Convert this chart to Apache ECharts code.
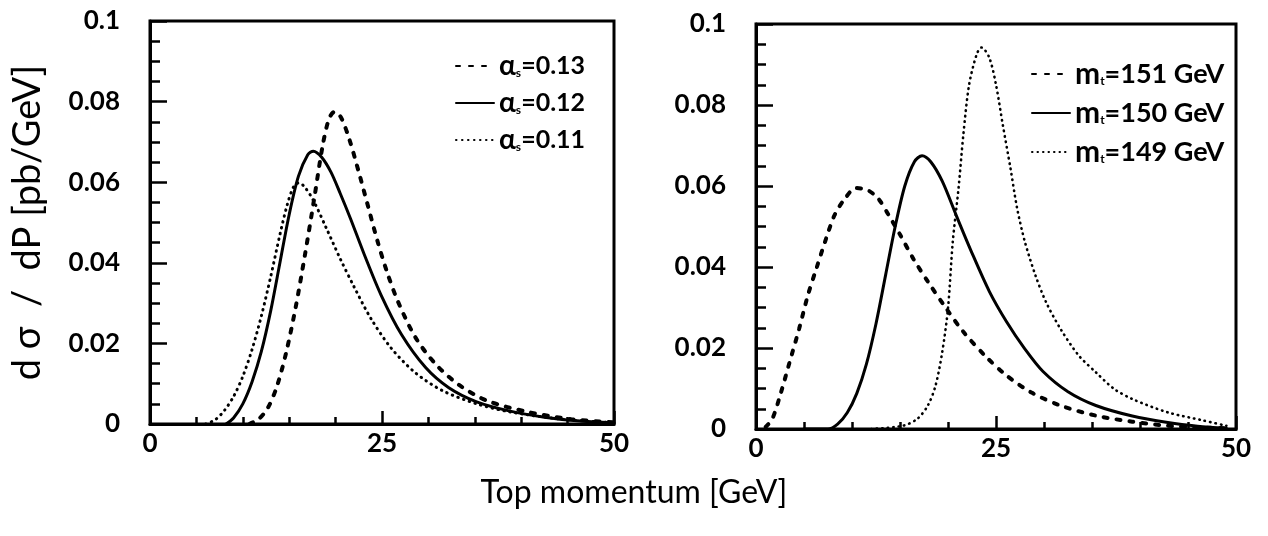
<!DOCTYPE html>
<html>
<head>
<meta charset="utf-8">
<script src="https://cdn.jsdelivr.net/npm/echarts@6/dist/echarts.min.js"></script>
<style>
  html, body { margin: 0; padding: 0; background: #fff; }
  #chart { width: 1268px; height: 536px; }
</style>
</head>
<body>
<div id="chart"></div>
<script>
// Top momentum spectra: momentum in GeV, dσ/dP in pb/GeV.

// Left panel: varying strong coupling
const alpha013X = [10.7, 11.7, 12.7, 13.7, 14.7, 15.7, 16.7, 17.7, 18.6, 19.3, 19.9, 20.6, 21.5, 22.5, 23.5, 24.5, 25.5, 26.7, 28.6, 30.8, 33.3, 36.3, 40.7, 45.4, 50.0];
const alpha013Y = [0, 0.0012, 0.0040, 0.0095, 0.0180, 0.0290, 0.0420, 0.0560, 0.0690, 0.0758, 0.0775, 0.0760, 0.0705, 0.0625, 0.0540, 0.0455, 0.0380, 0.0305, 0.0215, 0.0148, 0.0097, 0.0058, 0.0030, 0.0012, 0.0004];

const alpha012X = [8.2, 9.0, 10.0, 11.0, 12.0, 13.0, 14.0, 15.0, 16.0, 17.0, 17.6, 18.5, 19.5, 20.5, 21.6, 23.1, 24.9, 27.1, 29.7, 32.2, 35.2, 38.8, 42.5, 46.0, 50.0];
const alpha012Y = [0, 0.0015, 0.0050, 0.0105, 0.0180, 0.0280, 0.0400, 0.0520, 0.0615, 0.0668, 0.0677, 0.0662, 0.0625, 0.0572, 0.0510, 0.0420, 0.0320, 0.0222, 0.0140, 0.0090, 0.0055, 0.0032, 0.0017, 0.0008, 0.0003];

const alpha011X = [6.0, 7.0, 8.0, 9.0, 10.0, 11.0, 12.0, 13.0, 14.0, 14.8, 15.5, 16.0, 16.6, 17.6, 19.0, 20.5, 22.0, 23.8, 26.0, 28.6, 31.5, 35.2, 38.8, 44.3, 50.0];
const alpha011Y = [0, 0.0010, 0.0033, 0.0068, 0.0118, 0.0185, 0.0268, 0.0365, 0.0470, 0.0545, 0.0590, 0.0598, 0.0590, 0.0555, 0.0486, 0.0410, 0.0340, 0.0262, 0.0188, 0.0127, 0.0083, 0.0050, 0.0030, 0.0012, 0.0003];

// Right panel: varying top mass
const mt151X = [1.0, 1.7, 2.6, 3.5, 4.5, 5.4, 6.3, 7.3, 8.2, 9.3, 10.4, 11.6, 12.7, 13.8, 15.0, 16.4, 17.9, 19.8, 21.6, 23.9, 26.1, 28.7, 31.7, 35.4, 39.2, 42.9, 46.0, 49.0];
const mt151Y = [0.0005, 0.0025, 0.009, 0.0165, 0.0248, 0.033, 0.0397, 0.047, 0.0529, 0.057, 0.0595, 0.059, 0.057, 0.0529, 0.048, 0.042, 0.0364, 0.0298, 0.024, 0.018, 0.0132, 0.009, 0.0058, 0.0033, 0.0018, 0.0008, 0.0004, 0.0002];

const mt150X = [5.0, 7.5, 8.5, 9.5, 10.5, 11.5, 12.5, 13.5, 14.5, 15.5, 16.5, 17.3, 18.2, 19.4, 20.9, 22.4, 24.3, 26.1, 28.0, 29.9, 32.5, 35.4, 39.2, 42.9, 46.0, 49.0];
const mt150Y = [0, 0, 0.0012, 0.0040, 0.0088, 0.0160, 0.0260, 0.0380, 0.0500, 0.0600, 0.0660, 0.0675, 0.0660, 0.0612, 0.0525, 0.0440, 0.0340, 0.0265, 0.0198, 0.0142, 0.0092, 0.0058, 0.0032, 0.0016, 0.0007, 0.0002];

const mt149X = [12.0, 15.3, 16.8, 17.9, 18.7, 19.4, 20.0, 20.5, 21.1, 21.6, 22.2, 23.0, 23.5, 24.3, 25.0, 25.7, 26.5, 27.2, 28.0, 29.1, 30.2, 31.7, 33.6, 35.4, 37.3, 39.2, 42.9, 46.6, 49.0];
const mt149Y = [0, 0.0008, 0.0025, 0.0058, 0.0107, 0.019, 0.0298, 0.0463, 0.0595, 0.0727, 0.085, 0.0926, 0.0942, 0.0917, 0.085, 0.0752, 0.0645, 0.0545, 0.0463, 0.038, 0.0314, 0.0248, 0.0182, 0.014, 0.0099, 0.0074, 0.0041, 0.0021, 0.0008];

const xTickLabels = ['0', '25', '50'];
const yTickLabels = ['0', '0.02', '0.04', '0.06', '0.08', '0.1'];

const alphaValues = ['0.13', '0.12', '0.11'];
const massValues = ['151', '150', '149'];

function pairs(xs, ys) { return xs.map((x, i) => [x, ys[i]]); }

const FONT = 'Lato, "Open Sans", "DejaVu Sans", sans-serif';

const dashed = { color: '#000', width: 4, type: [4, 9], cap: 'round' };
const solid = { color: '#000', width: 3, type: 'solid', cap: 'round' };
const dotted = { color: '#000', width: 3, type: [0.5, 5.5], cap: 'round' };
const dottedThin = { color: '#000', width: 2.6, type: [0.5, 5], cap: 'round' };

function xAxisFor(gridIndex) {
  return {
    type: 'value', gridIndex, min: 0, max: 50, interval: 25,
    axisLine: { show: true, onZero: false, lineStyle: { color: '#000', width: 3 } },
    axisTick: { show: true, inside: true, length: 13, lineStyle: { color: '#000', width: 2.5 } },
    minorTick: { show: true, splitNumber: 5, length: 7, lineStyle: { color: '#000', width: 2.5 } },
    splitLine: { show: false },
    axisLabel: {
      color: '#000', fontFamily: FONT, fontWeight: 'bold', fontSize: 26, margin: 7,
      formatter: v => xTickLabels[Math.round(v / 25)]
    }
  };
}

function yAxisFor(gridIndex, extra) {
  return Object.assign({
    type: 'value', gridIndex, min: 0, max: 0.1, interval: 0.02,
    axisLine: { show: true, onZero: false, lineStyle: { color: '#000', width: 3 } },
    axisTick: { show: true, inside: true, length: 17, lineStyle: { color: '#000', width: 2.5 } },
    minorTick: { show: true, splitNumber: 4, length: 10, lineStyle: { color: '#000', width: 2.5 } },
    splitLine: { show: false },
    axisLabel: {
      color: '#000', fontFamily: FONT, fontWeight: 'bold', fontSize: 26, margin: 30,
      formatter: v => yTickLabels[Math.round(v / 0.02)]
    }
  }, extra || {});
}

function legendRich(size) {
  return {
    g: { fontFamily: FONT, fontWeight: 'bold', fontSize: size + 3, color: '#000', lineHeight: 30 },
    sub: { fontFamily: FONT, fontWeight: 'bold', fontSize: 12, color: '#000', lineHeight: 30, padding: [15, 0, 0, 0] },
    v: { fontFamily: FONT, fontWeight: 'bold', fontSize: size, color: '#000', lineHeight: 30 }
  };
}

function legendFor(names, left, top, head, subs, tail, size) {
  return {
    orient: 'vertical', left, top,
    itemWidth: 38, itemHeight: 30, itemGap: 9,
    data: names,
    selectedMode: false,
    itemStyle: { opacity: 0, color: 'rgba(0,0,0,0)', borderWidth: 0 },
    formatter: name => {
      const i = names.indexOf(name);
      return '{g|' + head + '}{sub|' + subs + '}{v|=' + tail[i] + '}';
    },
    textStyle: { rich: legendRich(size), padding: [0, 0, 0, 0] }
  };
}

const alphaNames = alphaValues.map(v => 'αs=' + v);
const massNames = massValues.map(v => 'mt=' + v + ' GeV');

const option = {
  animation: false,
  backgroundColor: '#fff',
  color: ['#000'],
  grid: [
    { left: 150, top: 21, width: 464, height: 403, show: true, borderColor: '#000', borderWidth: 3, backgroundColor: 'transparent' },
    { left: 756, top: 24, width: 480, height: 405, show: true, borderColor: '#000', borderWidth: 3, backgroundColor: 'transparent' }
  ],
  xAxis: [xAxisFor(0), xAxisFor(1)],
  yAxis: [
    yAxisFor(0, {
      name: 'd σ  /  dP [pb/GeV]', nameLocation: 'middle', nameRotate: 90, nameGap: 103,
      nameTextStyle: { fontFamily: FONT, fontSize: 38, color: '#000' }
    }),
    yAxisFor(1)
  ],
  legend: [
    legendFor(alphaNames, 450, 47, 'α', 's', alphaValues, 25),
    legendFor(massNames, 1026, 54, 'm', 't', massValues.map(v => v + ' GeV'), 27)
  ],
  graphic: [{
    type: 'text', left: 'center', top: 477,
    style: { text: 'Top momentum [GeV]', fontFamily: FONT, fontSize: 32, fill: '#000' }
  }],
  series: [
    { name: alphaNames[0], type: 'line', xAxisIndex: 0, yAxisIndex: 0, data: pairs(alpha013X, alpha013Y), symbol: 'none', smooth: 0.3, itemStyle: { color: '#000' }, lineStyle: dashed },
    { name: alphaNames[1], type: 'line', xAxisIndex: 0, yAxisIndex: 0, data: pairs(alpha012X, alpha012Y), symbol: 'none', smooth: 0.3, itemStyle: { color: '#000' }, lineStyle: solid },
    { name: alphaNames[2], type: 'line', xAxisIndex: 0, yAxisIndex: 0, data: pairs(alpha011X, alpha011Y), symbol: 'none', smooth: 0.3, itemStyle: { color: '#000' }, lineStyle: dotted },
    { name: massNames[0], type: 'line', xAxisIndex: 1, yAxisIndex: 1, data: pairs(mt151X, mt151Y), symbol: 'none', smooth: 0.3, itemStyle: { color: '#000' }, lineStyle: dashed },
    { name: massNames[1], type: 'line', xAxisIndex: 1, yAxisIndex: 1, data: pairs(mt150X, mt150Y), symbol: 'none', smooth: 0.3, itemStyle: { color: '#000' }, lineStyle: solid },
    { name: massNames[2], type: 'line', xAxisIndex: 1, yAxisIndex: 1, data: pairs(mt149X, mt149Y), symbol: 'none', smooth: 0.3, itemStyle: { color: '#000' }, lineStyle: dottedThin }
  ]
};

const chart = echarts.init(document.getElementById('chart'), null, { renderer: 'canvas' });
chart.setOption(option);
</script>
</body>
</html>
